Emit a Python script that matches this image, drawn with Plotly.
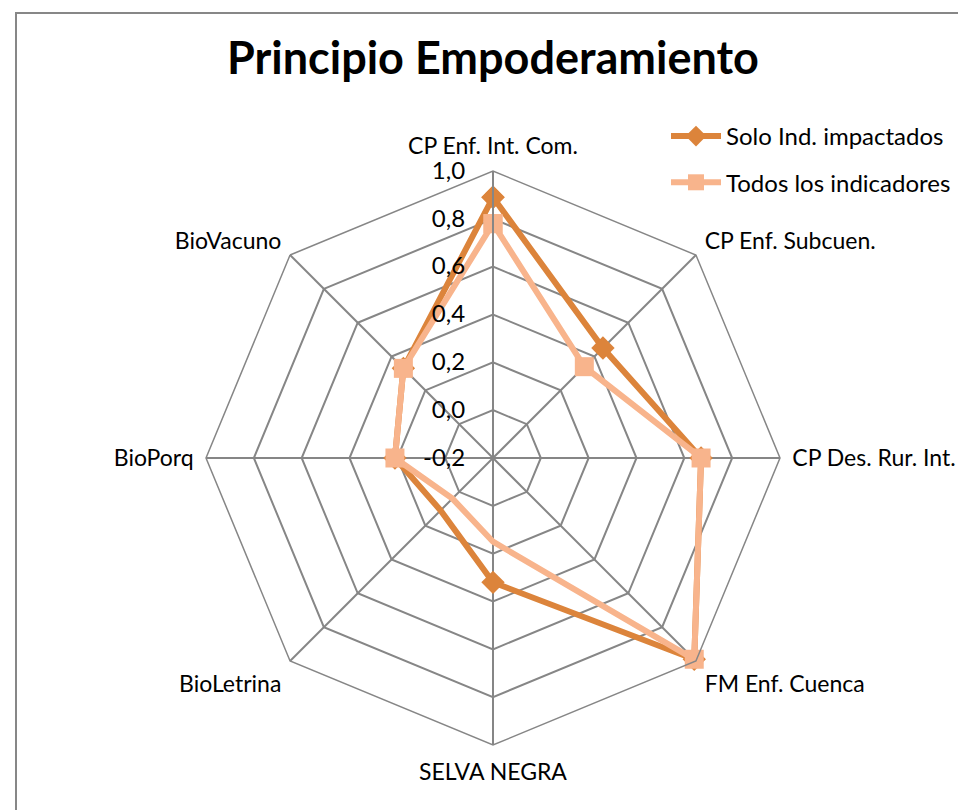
import plotly.graph_objects as go

# datos
categorias = ["CP Enf. Int. Com.", "CP Enf. Subcuen.", "CP Des. Rur. Int.", "FM Enf. Cuenca",
              "SELVA NEGRA", "BioLetrina", "BioPorq", "BioVacuno"]
solo_impactados = [0.89, 0.45, 0.67, 0.99, 0.32, 0.11, 0.21, 0.33]
todos_indicadores = [0.78, 0.34, 0.67, 0.99, 0.15, 0.04, 0.21, 0.33]
ticks_r = [-0.2, 0.0, 0.2, 0.4, 0.6, 0.8, 1.0]
ticks_txt = ["-0,2", "0,0", "0,2", "0,4", "0,6", "0,8", "1,0"]

c_solo = "#DC843B"
c_todos = "#F8B48C"

fig = go.Figure()

# cerrar el poligono repitiendo el primer punto
fig.add_trace(go.Scatterpolar(
    r=solo_impactados + solo_impactados[:1], theta=categorias + categorias[:1],
    name="Solo Ind. impactados", mode="lines+markers", legendgroup="a",
    line=dict(color=c_solo, width=6),
    marker=dict(symbol="diamond", size=18, color=c_solo)))

fig.add_trace(go.Scatterpolar(
    r=todos_indicadores + todos_indicadores[:1], theta=categorias + categorias[:1],
    name="Todos los indicadores", mode="lines+markers", legendgroup="b",
    line=dict(color=c_todos, width=6),
    marker=dict(symbol="square", size=19, color=c_todos)))

# espacio a la derecha de las etiquetas del eje radial
pad = "\u00a0\u00a0\u00a0"

#ejes
fig.update_layout(
    polar=dict(
        domain=dict(x=[198/966, 772/966], y=[73/810, 647/810]),
        gridshape="linear",
        bgcolor="white",
        radialaxis=dict(range=[-0.2, 1.0], tickvals=ticks_r,
                        ticktext=[t + pad for t in ticks_txt],
                        angle=90, tickangle=90, side="counterclockwise",
                        showline=True, linecolor="#868686", linewidth=2,
                        gridcolor="#868686", gridwidth=1.5, ticks="",
                        tickfont=dict(size=24, color="black")),
        angularaxis=dict(rotation=90, direction="clockwise",
                         showline=True, linecolor="#868686", linewidth=1.5,
                         gridcolor="#868686", gridwidth=1.5,
                         ticks="outside", ticklen=7, tickcolor="rgba(0,0,0,0)",
                         tickfont=dict(size=23, color="black")),
    ),
    font=dict(family="Lato, Open Sans, sans-serif", color="black"),
    title=dict(text="<b>Principio Empoderamiento</b>", x=0.502, xanchor="center",
               y=1-50/810, yanchor="middle", font=dict(size=45, color="black")),
    legend=dict(x=658/966, y=1-106/810, xanchor="left", yanchor="top",
                font=dict(size=24), itemwidth=50, tracegroupgap=12,
                bgcolor="rgba(0,0,0,0)"),
    width=966, height=810,
    margin=dict(l=0, r=0, t=0, b=0),
    paper_bgcolor="white",
    showlegend=True,
)

# marco
fig.add_shape(type="rect", xref="paper", yref="paper",
              x0=8/966, x1=1.02, y0=-0.02, y1=1-5/810,
              line=dict(color="#878787", width=2))

fig.write_html("out.html")
